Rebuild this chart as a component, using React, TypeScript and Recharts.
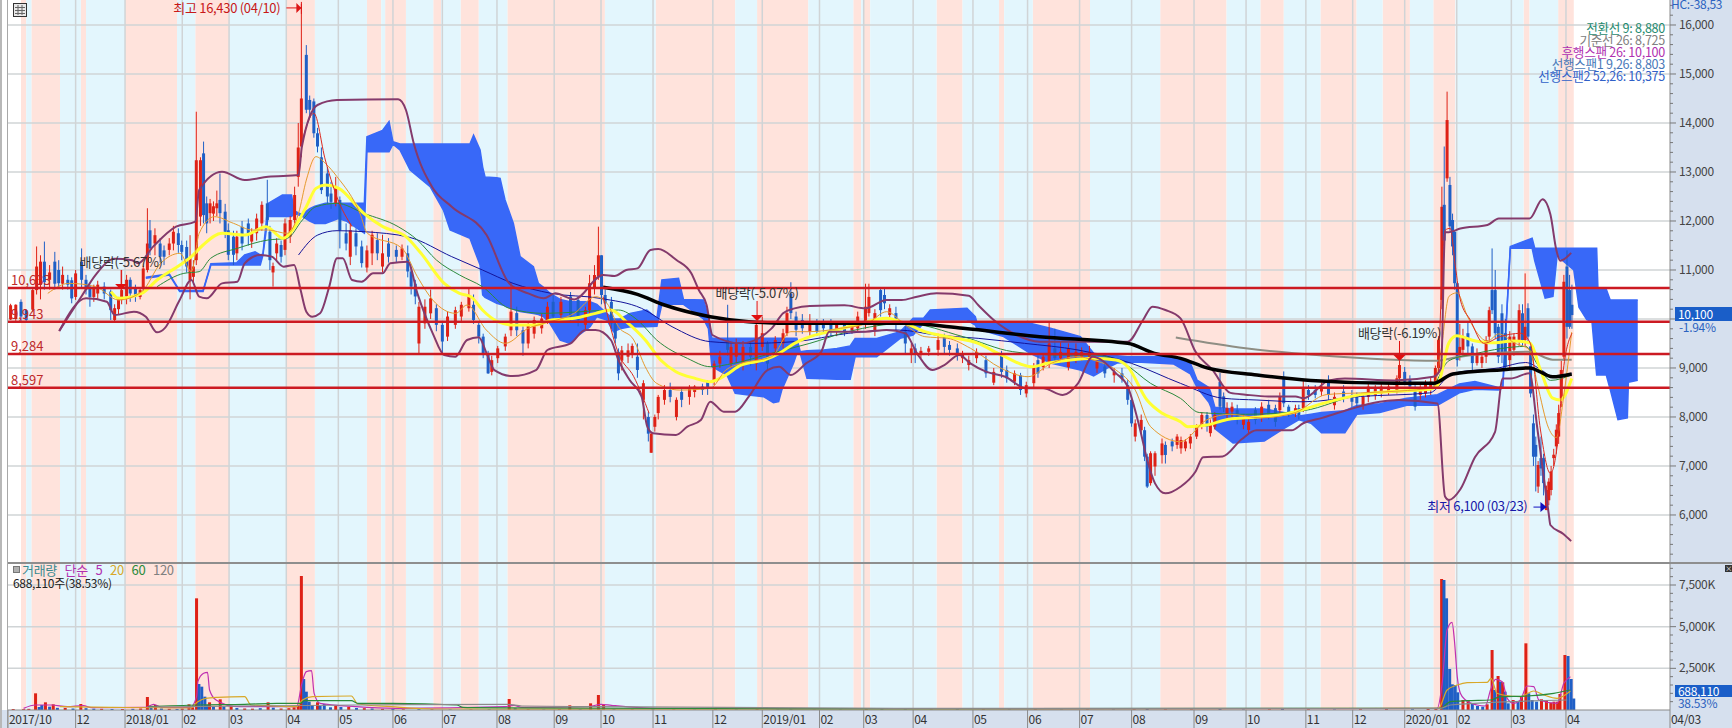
import React from "react";
import {
  Area,
  Bar,
  ComposedChart,
  Line,
  ReferenceArea,
  ReferenceDot,
  ReferenceLine,
  XAxis,
  YAxis,
} from "recharts";

const FONT = '"Noto Sans CJK KR", "Liberation Sans", sans-serif';
const UP = "#DE2116";
const DOWN = "#1F5FC6";
const CLOUD = "#3868F8";
const PINK = "#FFE3DC";
const SKY = "#E3F6FD";
const GRID = "#D0D4D6";
const PANEL = "#D6E0EE";

// x axis is trading days counted from the left edge of the chart
const LAST_DAY = 639;
const MONTH_DAYS = [0, 26, 45, 67, 85, 107, 127, 148, 167, 188, 210, 228, 248, 271, 290, 312, 329, 348, 371, 392, 412, 432, 456, 476, 499, 517, 537, 557, 578, 599, 639];
const MONTH_LABELS = ["2017/10", "12", "2018/01", "02", "03", "04", "05", "06", "07", "08", "09", "10", "11", "12", "2019/01", "02", "03", "04", "05", "06", "07", "08", "09", "10", "11", "12", "2020/01", "02", "03", "04", "04/03"];

const PRICE_LABELS = [6000, 7000, 8000, 9000, 10000, 11000, 12000, 13000, 14000, 15000, 16000];
const LEVELS = [10633, 9943, 9284, 8597];
const LEVEL_LABELS = ["10,633", "9,943", "9,284", "8,597"];

// background bands, start and end day
const PINK_BANDS = [[5, 7], [9, 20], [28, 30], [45, 65], [72, 85], [107, 118], [138, 143.5], [145, 153], [163.5, 166.5], [174, 181], [192, 229.5], [249, 279.6], [288, 307.7], [325, 328], [329, 331.5], [357, 367], [381, 383], [394, 416], [443, 468.5], [481.5, 490.5], [504.6, 518.5], [528.5, 539], [548, 556.5], [582.7, 585], [596, 602]];
const SKY_BANDS = [[7, 9], [20, 28], [30, 45], [65, 72], [85, 107], [118, 138], [143.5, 145], [153, 163.5], [166.5, 174], [181, 192], [229.5, 249], [279.6, 288], [307.7, 325], [328, 329], [331.5, 357], [367, 381], [383, 394], [416, 443], [468.5, 481.5], [490.5, 504.6], [518.5, 528.5], [539, 548], [556.5, 582.7], [585, 596]];

// candles: day, open, close, high, low
const CANDLES_2017 = [
  [1, 9990, 10280, 10310, 9980], [3, 10000, 10290, 10300, 9960], [5, 10350, 10050, 10400, 9950], [7, 10180, 9980, 10200, 9960],
  [9.5, 10190, 10590, 10650, 10150], [11, 10590, 11070, 11480, 10500], [12.5, 10700, 11170, 11300, 10400], [14, 11170, 10750, 11580, 10600],
  [16, 10800, 10950, 11100, 10600], [18, 11170, 10720, 11370, 10600], [19.5, 11000, 10730, 11200, 10650], [21, 10720, 10900, 11070, 10600],
  [23, 10800, 10700, 10900, 10600], [24.5, 10790, 10420, 10850, 10320], [26, 10450, 10930, 11000, 10390], [28.3, 11170, 10800, 11440, 10650],
  [30, 10800, 10600, 10900, 10500], [31.5, 10660, 10450, 10700, 10250], [33, 10450, 10620, 10700, 10350], [34.5, 10520, 10700, 10780, 10400],
  [37, 10660, 10520, 10750, 10400], [39.5, 10560, 10180, 10600, 9980], [41, 9980, 10220, 10300, 9950], [42.5, 10200, 10400, 10450, 10100],
  [43.7, 10390, 10590, 11000, 10300],
];
const CANDLES_2018_Q1 = [
  [45.6, 10460, 10800, 10900, 10300], [47, 10800, 10520, 10850, 10350], [49, 10620, 10450, 10700, 10350], [50.8, 10450, 10590, 10650, 10400],
  [52, 10620, 11030, 11080, 10550], [53.6, 11000, 11540, 12260, 10950], [54.6, 11810, 11440, 12020, 11300], [56.5, 11540, 11710, 11850, 11300],
  [58.5, 11540, 11270, 11650, 11150], [60, 11400, 11270, 11500, 11100], [62, 11410, 11540, 11650, 11300], [63.6, 11540, 11780, 11900, 11400],
  [65.5, 11750, 11510, 11850, 11350], [66.8, 11510, 11370, 11600, 11200], [68.7, 11470, 11070, 11600, 10950], [70, 10790, 11240, 11710, 10400],
  [71.3, 10860, 11070, 11200, 10700], [72.4, 11200, 13240, 14230, 11100], [74, 12090, 13240, 13300, 11900], [75.2, 13380, 12120, 13620, 11950],
  [76.4, 12360, 11950, 12500, 11750], [77.7, 12160, 12360, 12450, 11950], [79, 12150, 12300, 12400, 12000], [80.3, 12260, 12360, 12620, 12100],
  [81.5, 12430, 12160, 12970, 11950], [83.5, 12190, 11780, 12350, 11650], [84.7, 11810, 11310, 11950, 11200], [86.7, 11680, 11310, 11800, 11100],
  [88, 11340, 11680, 11800, 11200], [90, 11880, 11540, 12000, 11400], [92.4, 11950, 11710, 12050, 11500], [93.7, 11580, 11750, 11850, 11450],
  [95.6, 11750, 12050, 12150, 11600], [97.6, 11950, 12330, 12400, 11800], [99.7, 12360, 12020, 12840, 11900], [100.7, 11780, 11200, 11900, 11000],
  [101.9, 10950, 11080, 11150, 10660], [103.3, 11340, 11540, 11650, 11200], [105, 11510, 11270, 11600, 11150],
];
const CANDLES_2018_Q2 = [
  [106.5, 11410, 11950, 12050, 11300], [108.5, 11680, 12020, 12100, 11550], [110.2, 12020, 12530, 12700, 11950], [111.6, 12900, 13500, 14000, 12700],
  [112.8, 13520, 14500, 16430, 13300], [114.7, 15390, 14270, 15590, 14200], [116, 14470, 14270, 14560, 14100], [117.6, 14440, 13790, 14500, 13700],
  [119, 13790, 13520, 13900, 13400], [120.5, 13300, 12630, 13500, 12550], [122.8, 12970, 12500, 13100, 12350], [124.2, 12560, 12390, 12800, 12250],
  [126, 12360, 12700, 12900, 12300], [127.6, 12430, 11810, 12500, 11440], [130, 11750, 11540, 11950, 11400], [131.6, 11270, 11810, 11950, 11100],
  [133.8, 11750, 11480, 11850, 11300], [136, 11480, 11140, 11600, 11050], [138, 11050, 11400, 11500, 10950], [140, 11340, 11720, 11800, 11100],
  [142, 11610, 11340, 11750, 11200], [144, 11070, 11340, 11720, 10950], [146.3, 11540, 11270, 11650, 11150], [149.3, 11410, 11270, 11500, 11150],
  [151.5, 11270, 11440, 11520, 11200], [153.7, 11340, 10970, 11500, 10850], [155, 10970, 10660, 11050, 10500], [156.6, 10720, 10460, 10800, 10300],
  [158, 9500, 10250, 10350, 9270], [160.3, 9910, 10250, 10400, 9800], [162.5, 10115, 10420, 10600, 10000], [164.7, 10220, 9880, 10300, 9750],
];
const CANDLES_2018_Q3 = [
  [167, 9880, 9540, 9950, 9300], [169, 9640, 10050, 10150, 9550], [172, 9880, 10180, 10250, 9800], [174.3, 10050, 10290, 10350, 9950],
  [177.2, 10220, 10490, 10650, 10150], [179, 10290, 9980, 10500, 9900], [181, 9880, 9640, 9950, 9500], [182.7, 9640, 9300, 9700, 9200],
  [184.6, 9300, 8890, 9350, 8880], [186, 8920, 9160, 9250, 8850], [188.3, 9200, 9400, 9450, 9100], [191.2, 9440, 9640, 9700, 9350],
  [193.4, 9770, 10150, 10730, 9650], [195.6, 10120, 9770, 10250, 9650], [198, 9770, 9500, 9850, 9250], [200, 9500, 9880, 9950, 9400],
  [202.3, 9700, 9980, 10050, 9600], [205.2, 9810, 10010, 10100, 9700], [207.4, 9980, 10250, 10350, 9900], [209.6, 10350, 10050, 10500, 9950],
  [212.6, 10080, 10350, 10450, 10000], [216.3, 10460, 10050, 10550, 9950], [219.2, 10390, 9980, 10450, 9850], [222, 9880, 10180, 10250, 9750],
  [223.6, 10180, 10730, 10900, 10100], [225.5, 10625, 10897, 11100, 10500], [227, 10865, 11300, 11884, 10800],
];
const CANDLES_2018_Q4 = [
  [228.2, 11300, 10490, 11300, 10300], [229.6, 10490, 10320, 10600, 10200], [232, 10350, 9910, 10450, 9800], [233.5, 9910, 9600, 10000, 9500],
  [234.7, 9330, 8890, 9400, 8750], [236, 9150, 9360, 9450, 8950], [238.4, 9230, 9360, 9500, 9100], [240, 9300, 9450, 9500, 9200],
  [242, 9230, 8960, 9500, 8800], [244.3, 8350, 8690, 8750, 7950], [246.2, 8000, 7660, 8100, 7500], [247.3, 7270, 7660, 7700, 7270],
  [248.7, 7800, 8000, 8050, 7700], [250, 8080, 8410, 8450, 7950], [252.4, 8350, 8550, 8650, 8250], [254.6, 8550, 8410, 8700, 8300],
  [257, 8000, 8350, 8400, 7930], [259, 8510, 8350, 8600, 8200], [262, 8410, 8580, 8650, 8250], [264, 8510, 8620, 8650, 8400],
  [267, 8620, 8550, 8680, 8450], [269, 8720, 8580, 8750, 8450], [271.5, 8720, 9090, 9150, 8650], [273.7, 9090, 9230, 9350, 9000],
  [276.7, 9570, 9370, 10290, 9250], [278, 9090, 9430, 9500, 9000], [280, 9230, 9500, 9600, 9100], [282.6, 9090, 9430, 9550, 8950],
  [285.5, 9430, 9230, 9550, 9050], [287.7, 9090, 9880, 9950, 8950],
];
const CANDLES_2019_H1 = [
  [290, 9430, 9710, 10050, 9350], [292, 9500, 9090, 9550, 8950], [295, 9400, 9570, 9650, 9300], [298, 9500, 9710, 9800, 9400],
  [299.5, 9710, 10120, 10250, 9650], [301, 10520, 10120, 10750, 10000], [303, 10050, 9780, 10150, 9650], [305.4, 9980, 9810, 10100, 9700],
  [308.3, 9740, 9910, 10100, 9650], [311, 9910, 9740, 10000, 9650], [313.5, 9910, 9810, 10000, 9700], [316.4, 9910, 9740, 10000, 9650],
  [318.6, 9740, 9880, 9950, 9650], [321.6, 9880, 9740, 9950, 9650], [324.5, 9770, 9880, 9950, 9700], [326.7, 9810, 10050, 10150, 9750],
  [329.7, 9910, 10250, 10720, 9800], [331, 10120, 10450, 10720, 10050], [333.3, 9770, 10120, 10200, 9650], [335.5, 10590, 10180, 10650, 10050],
  [337, 10490, 10320, 10650, 10200], [339, 10080, 10220, 10300, 10000], [341.4, 10120, 9880, 10250, 9750], [345, 9740, 9500, 9850, 9300],
  [347.3, 9270, 9400, 9500, 9100], [348.8, 9400, 9300, 9500, 9100], [351, 9300, 9350, 9430, 9200], [354, 9330, 9400, 9450, 9250],
  [357.6, 9370, 9570, 9700, 9250], [360, 9640, 9430, 9700, 9300], [362, 9470, 9370, 9550, 9250], [365, 9400, 9270, 9500, 9150],
  [367, 9200, 9300, 9350, 9100], [369.4, 9060, 9160, 9250, 8950], [372.4, 9200, 9330, 9400, 9100], [376, 9160, 8890, 9250, 8800],
  [379, 8700, 8920, 9000, 8650], [382, 9260, 8920, 9350, 8800], [384, 8960, 8790, 9050, 8700], [387, 8720, 8890, 8950, 8650],
  [389.3, 8850, 8550, 8900, 8450], [391.5, 8480, 8650, 8720, 8400], [394.4, 8690, 9020, 9100, 8600], [396, 9160, 8890, 9250, 8800],
];
const CANDLES_2019_Q3 = [
  [398, 9020, 9230, 9300, 8950], [400.3, 9090, 9500, 9950, 9000], [402.5, 9400, 9200, 9800, 9100], [404.7, 9200, 9330, 9550, 9100],
  [407.7, 9020, 9400, 9500, 8950], [410.6, 9230, 9330, 9500, 9100], [412.8, 9230, 9330, 9420, 9150], [415.8, 9230, 9330, 9450, 9150],
  [418.7, 8990, 9130, 9200, 8900], [421.7, 9030, 8890, 9100, 8800], [425.3, 8850, 8920, 9000, 8700], [428.3, 8890, 8790, 9000, 8700],
  [430.5, 8650, 8350, 8750, 8250], [432, 8350, 7870, 8400, 7800], [433.4, 7600, 7870, 7950, 7500], [435.7, 7730, 7940, 8050, 7650],
  [437, 7730, 7190, 7800, 7100], [438, 7190, 6580, 7250, 6550], [439.3, 6650, 7260, 7300, 6600], [441, 6990, 7260, 7300, 6800],
  [443.7, 7220, 7460, 7560, 7050], [445, 7430, 7225, 7500, 7050], [447.6, 7500, 7400, 7560, 7300], [449.5, 7430, 7600, 7650, 7350],
  [451, 7360, 7530, 7600, 7250], [452.7, 7360, 7500, 7550, 7300], [454.6, 7460, 7600, 7650, 7350], [457, 7600, 7800, 7850, 7550],
  [459, 7800, 8040, 8100, 7750], [461, 8040, 7800, 8100, 7700], [462.3, 7670, 7870, 7950, 7600], [464, 7800, 8040, 8100, 7750],
];
const CANDLES_2019_Q4 = [
  [466, 8720, 8210, 8900, 8150], [467.4, 8420, 8180, 8500, 8100], [468.7, 8040, 8180, 8300, 7950], [470.6, 8110, 8210, 8300, 8000],
  [472.6, 8140, 7940, 8250, 7850], [475, 7840, 7970, 8050, 7750], [477, 7735, 7900, 8000, 7650], [479.6, 8140, 7940, 8200, 7850],
  [482, 8010, 8210, 8300, 7900], [484.7, 8250, 8040, 8350, 7950], [487.3, 8180, 7900, 8250, 7800], [489, 8140, 8420, 8500, 8050],
  [490.5, 8820, 8280, 8930, 8200], [492.4, 8210, 8070, 8250, 8000], [495, 8070, 8180, 8250, 8000], [496.3, 8180, 8040, 8250, 7950],
  [498, 8180, 8580, 8750, 8100], [500, 8550, 8450, 8650, 8350], [502.6, 8550, 8450, 8650, 8380], [505, 8520, 8620, 8700, 8430],
  [507.7, 8720, 8450, 8850, 8350], [510, 8240, 8410, 8500, 8150], [513.5, 8520, 8410, 8650, 8300], [516.7, 8450, 8310, 8550, 8200],
  [518.6, 8410, 8280, 8500, 8200], [521, 8240, 8410, 8480, 8150], [523, 8410, 8620, 8700, 8300], [525.7, 8450, 8580, 8650, 8350],
  [528, 8480, 8620, 8700, 8400], [530.8, 8520, 8620, 8680, 8450], [534, 8550, 8790, 8850, 8480], [535, 8790, 9060, 9490, 8700],
  [537, 8920, 8720, 9020, 8650], [539, 8760, 8620, 8850, 8550], [541, 8550, 8210, 8650, 8130], [543, 8450, 8580, 8650, 8350],
  [545, 8480, 8690, 8750, 8400], [547, 8550, 8720, 8800, 8450],
];
const CANDLES_2020 = [
  [548.8, 8720, 9000, 9050, 8650], [550, 9000, 9570, 9650, 8900], [551.3, 10390, 12290, 12700, 10200], [552.2, 12330, 11600, 13520, 11500],
  [553.3, 12870, 14060, 14640, 12800], [554.4, 12735, 11890, 12900, 11800], [555.4, 12020, 11480, 12150, 11300], [556.2, 11780, 10730, 11800, 10600],
  [557.2, 10730, 9160, 10750, 9030], [558.2, 9300, 9430, 9900, 9150], [559.4, 9370, 9640, 9800, 9250], [561.3, 9710, 9440, 9950, 9300],
  [563, 9440, 9100, 9500, 8950], [564.8, 9100, 9300, 9400, 9050], [566.7, 9100, 9230, 9300, 9000], [568.3, 9230, 9570, 9650, 9100],
  [569.5, 9640, 10180, 10250, 9550], [570.6, 10590, 10180, 11440, 10100], [571.8, 10590, 9710, 11000, 9600], [573, 9840, 9230, 9900, 9100],
  [574.4, 10116, 9300, 10300, 9100], [575.7, 9710, 9030, 10000, 8950], [577.4, 9160, 9640, 9750, 9000], [579, 9370, 9640, 9700, 9250],
  [581, 9570, 10180, 10300, 9450], [582.3, 10116, 9570, 10300, 9450], [583.3, 9570, 9840, 10930, 9450], [584.4, 10220, 9640, 10320, 9550],
  [585.4, 9440, 8480, 9500, 8400], [586.5, 7870, 7190, 8050, 7000], [587.4, 7430, 7190, 7600, 6480], [588.3, 6580, 7020, 7100, 6450],
  [589.4, 7160, 6950, 7600, 6800], [590.4, 7160, 6650, 7250, 6400], [591.5, 6100, 6510, 6600, 6100], [592.4, 6300, 6680, 6750, 6200],
  [593.3, 6510, 6890, 7000, 6400], [594.3, 7160, 7230, 7350, 7000], [595.3, 7400, 7740, 7850, 7250], [596.2, 7600, 8080, 8250, 7450],
  [597.2, 8350, 8960, 9150, 8200], [598.2, 9230, 10760, 10900, 9150], [599.4, 11070, 9840, 11400, 9600], [600.4, 10590, 9840, 10900, 9800],
  [601.3, 10290, 10080, 10700, 9800],
];

// ichimoku cloud: day, lower edge, upper edge
const CLOUD_2018_H1 = [
  [53, 10830, 10850], [62, 10900, 10920], [66, 10560, 10580], [75, 10560, 10580], [78, 11100, 11130], [88, 11100, 11150], [91, 11100, 11310],
  [95, 11100, 11370], [97, 11100, 11310], [98, 11300, 11320], [100, 12090, 12360], [105.5, 12090, 12530], [109, 12090, 12530], [110, 12150, 12210],
  [113, 12100, 12130], [116, 12000, 12250], [118, 11950, 12300], [122, 11950, 12360], [127, 12050, 12360], [130, 12000, 12360], [137, 11750, 12360],
  [138, 13415, 13720], [144, 13415, 13850], [146.5, 13415, 14030], [148, 13570, 13620], [150.7, 13449, 13570], [154.6, 13041, 13570], [162.3, 12700, 13570],
  [167.4, 12224, 13570], [170, 11816, 13570], [177.6, 11646, 13570], [179, 11450, 13750],
];
const CLOUD_2018_H2 = [
  [181.5, 11100, 13449], [182.5, 10490, 13100], [183.4, 10440, 12900], [187.9, 10320, 12880], [189.2, 10300, 12870], [191.1, 10270, 12428], [194.3, 10200, 11952],
  [196.9, 10150, 11272], [202, 10110, 11068], [203.9, 10090, 10728], [205.8, 10050, 10650], [208.4, 9906, 10524], [212.3, 9571, 10400], [216.1, 9503, 10350],
  [218.7, 9640, 10350], [223.8, 9843, 10350], [226.4, 10047, 10300], [230.2, 9980, 10115], [232.8, 9740, 10000], [235.3, 9800, 10000], [239.2, 9840, 10115],
  [245.6, 9840, 10184], [249.5, 9850, 10013], [251.4, 10300, 10796], [257.8, 10300, 10830], [259.7, 10300, 10400], [267.4, 10000, 10388], [269.3, 9800, 10047],
  [270.6, 9027, 9605], [276.4, 8857, 9605], [279.6, 8483, 9605], [284.7, 8450, 9605],
];
const CLOUD_2019 = [
  [290.5, 8415, 9605], [294.3, 8292, 9605], [296.3, 8312, 9605], [297.5, 8550, 9605], [302, 9095, 9605], [303.3, 9300, 9605], [304.6, 9300, 9333], [307.2, 8789, 9350],
  [313.6, 8780, 9367], [318.7, 8770, 9400], [323.8, 8768, 9450], [325.7, 9231, 9600], [334, 9231, 9600], [343, 9605, 9741], [348, 9673, 10013], [352, 9911, 10013],
  [354.6, 9979, 10183], [368.7, 9979, 10217], [371.9, 9877, 10047], [372.6, 9800, 9912], [382.8, 9640, 9912], [393, 9300, 9912], [400.8, 9100, 9810], [412.3, 8960, 9640],
  [417.4, 8840, 9300], [422.6, 9000, 9260], [426.4, 9100, 9250], [430.3, 9110, 9230], [434, 9120, 9230], [448.2, 9080, 9230], [454.6, 8880, 9100], [457.2, 8600, 8750],
  [461.7, 8300, 8600], [462.5, 8200, 8490], [464, 7763, 8200], [471, 7471, 8164], [483, 7508, 8164], [490.5, 7763, 8091], [496.4, 7945, 8018], [501, 7872, 8055],
  [505, 7676, 8091], [514, 7676, 8128], [518.6, 8055, 8237], [527.4, 8091, 8270], [537.8, 8237, 8383],
];
const CLOUD_2020 = [
  [549.6, 8237, 8456], [558, 8492, 8674], [564, 8565, 8725], [573, 8550, 8601], [574.7, 8590, 8620], [577.6, 11444, 11481], [586, 11444, 11648], [587, 11189, 11444],
  [591, 10424, 11444], [594, 10460, 11444], [595.6, 11300, 11444], [597, 11225, 11444], [602, 11000, 11444], [604, 10241, 11444], [607, 9986, 11444], [609, 9950, 11444],
  [610.8, 8857, 11444], [611.3, 8857, 10606], [614.5, 8857, 10606], [616, 8565, 10387], [619, 7945, 10387], [622.6, 7982, 10387], [623, 8711, 10387], [626.6, 8747, 10387],
];

// bollinger bands: day, price
const BAND_UPPER = [
  [19.7, 9755], [28.6, 10490], [33.7, 10900], [41, 11230], [47.7, 11200], [50, 11135], [55.8, 11476], [64.6, 11884], [72, 11986], [73.5, 12632], [82.3, 13006], [91, 12836],
  [100, 12904], [111.7, 12938], [113, 13517], [119, 14367], [126.5, 14469], [150, 14483], [153, 14265], [156, 13585], [163, 12700], [170.6, 12292], [184, 11714],
  [192.7, 10727], [200, 10523], [206, 10421], [210.4, 10523], [217.7, 10400], [228.8, 10897], [233.2, 10877], [237.7, 10999], [242, 11033], [247, 11408], [250, 11428],
  [257, 11203], [262.7, 10931], [265.6, 10591], [268.6, 10285], [270.8, 9673], [281.8, 9503], [293.6, 9809], [298, 10115], [302.4, 10217], [308.3, 10265], [321.6, 10278],
  [329.7, 10217], [337.8, 10387], [343.6, 10387], [349.5, 10455], [357, 10523], [369.4, 10476], [373, 10285], [379, 9979], [387.8, 9673], [396.6, 9537], [411.4, 9537],
  [430.5, 9537], [436.4, 9979], [440, 10251], [445, 10183], [450.8, 10013], [456.6, 9330], [463, 8966], [470, 8492], [475.8, 8456], [484.6, 8419], [495, 8419], [498, 8383],
  [508, 8747], [514, 8784], [533, 8747], [548, 8820], [551, 9000], [552.5, 11772], [554, 11772], [558.4, 11845], [568.8, 11918], [573.2, 12049], [585, 12049], [590, 12443],
  [593, 12137], [595.3, 11408], [596.8, 11189], [601, 11349],
];
const BAND_LOWER = [
  [19.7, 9755], [30, 10421], [38, 10353], [41, 10081], [48.4, 10149], [53, 10047], [57.3, 9727], [60.2, 9809], [66, 10387], [70.5, 10795], [73.5, 10455], [76.4, 10421],
  [82.3, 10727], [88.2, 10761], [91, 11136], [97, 11306], [101.4, 11272], [106, 11068], [110, 11102], [112.5, 10591], [114.7, 10149], [117, 10047], [120, 10115], [123.5, 10659],
  [126.5, 11238], [128.7, 11238], [132.3, 10795], [136, 10761], [140.4, 10931], [144, 10931], [147, 11136], [153.7, 11170], [157.4, 10523], [163.3, 9707], [167.7, 9265],
  [172, 9231], [176.5, 9571], [181, 9625], [184, 9299], [187, 8958], [194, 8836], [203, 8958], [207.4, 9367], [216.3, 9503], [222, 9775], [225.9, 9775], [231.8, 9571],
  [234.7, 9163], [239, 8754], [243.6, 8414], [245.8, 7802], [248, 7666], [256.8, 7632], [261.2, 7802], [266.4, 7938], [270, 8312], [275.2, 8108], [279.6, 8108], [284.8, 8414],
  [292, 8958], [296.5, 9026], [301, 8856], [306.8, 9094], [312.7, 9333], [315.7, 9741], [329.7, 9741], [337.8, 9775], [345, 9707], [349.5, 9299], [355.4, 8958], [360, 9060],
  [365.7, 9265], [370, 9094], [376, 8925], [383.4, 8822], [391.5, 8584], [398, 8584], [405.5, 8448], [411.4, 8686], [417, 9231], [426, 8890], [430.5, 8618], [435, 7802],
  [438, 7122], [441, 6645], [445, 6441], [450.8, 6577], [456.6, 6888], [459.5, 7180], [467, 7195], [474.3, 7545], [480, 7727], [493.5, 7727], [498, 7872], [505.3, 7982],
  [514, 8128], [527.4, 8310], [534.8, 8347], [549.6, 8273], [552.5, 6378], [554, 6305], [558.4, 6524], [564, 7180], [571.7, 7690], [574.7, 8784], [577.6, 8784], [585, 8893],
  [588, 7763], [592.4, 6014], [593, 5795], [598, 5613], [601, 5467],
];

// moving averages: day, price
const MA_ORANGE = [
  [15.3, 10523], [23.4, 10727], [33.7, 10659], [42.5, 10387], [51.4, 10557], [58.7, 11136], [66.1, 11340], [70.5, 10966], [73.5, 11748], [79.4, 12088], [86.7, 11952], [94, 11816],
  [100, 11816], [107.3, 11748], [111.7, 12156], [114.7, 12836], [118.4, 13313], [122, 13177], [126.5, 12904], [135.3, 12156], [138.2, 11748], [151.5, 11442], [157.4, 10863],
  [163.3, 10387], [172.1, 10115], [176.5, 10285], [183.9, 9775], [191.2, 9503], [200, 9809], [206, 9911], [217.7, 10115], [225.9, 10455], [230.3, 10319], [234.7, 9843],
  [240.6, 9571], [245, 9026], [249.4, 8686], [258.3, 8550], [270, 8584], [276, 8958], [281.8, 9094], [293.6, 9231], [301, 9741], [308.3, 9741], [320, 9809], [330.4, 9911],
  [337.8, 10149], [345, 9877], [352.5, 9639], [361.3, 9605], [370.1, 9401], [381.9, 8992], [392.2, 8822], [401.1, 9094], [411.4, 9231], [417.2, 9163], [426, 8958], [433.4, 8550],
  [439.3, 7802], [450.8, 7496], [461, 7945], [469.9, 8055], [481.7, 7982], [495, 8091], [506.8, 8456], [520, 8492], [534.8, 8529], [548.1, 8601], [551, 9367], [554, 10460],
  [557, 10533], [561.4, 10023], [568.8, 9549], [573.2, 9695], [579.1, 9513], [585, 9367], [588, 8674], [592.4, 7763], [595.3, 7581], [598.3, 8492], [601.2, 9731],
];
const MA_YELLOW = [
  [39.6, 10557], [42.5, 10421], [51.4, 10523], [57.3, 10795], [66.1, 11102], [70.5, 11272], [75, 11510], [82.3, 11748], [91.1, 11714], [99.2, 11884], [105.8, 11646], [110.3, 11884],
  [114.7, 12292], [118.4, 12666], [122, 12734], [127.2, 12666], [136.8, 12156], [144.1, 11884], [153, 11680], [158.8, 11340], [167.7, 10727], [173.6, 10523], [178, 10455],
  [182.4, 10183], [188.3, 9945], [194.2, 9877], [203, 9877], [209, 9979], [217.7, 10013], [225.9, 10115], [231.8, 10183], [237.7, 9945], [245, 9571], [250.9, 9163], [256.8, 8924],
  [264.2, 8788], [270, 8720], [276, 8856], [281.8, 9060], [290.7, 9163], [296.5, 9299], [302.4, 9503], [308.3, 9639], [315.7, 9741], [326, 9877], [337.8, 10013], [345, 9911],
  [352.5, 9741], [361.3, 9639], [373, 9503], [381.9, 9265], [393.7, 9026], [399.6, 9095], [408.4, 9163], [417.2, 9197], [426, 9163], [430.5, 9026], [437.9, 8346], [443.8, 8074],
  [450.8, 7904], [453.6, 7800], [461, 7836], [468.4, 7945], [475.8, 7982], [490.5, 8055], [496.4, 8128], [505.3, 8273], [520, 8456], [534.8, 8529], [546.6, 8565], [549.6, 8638],
  [554, 9513], [557, 9658], [564.3, 9549], [570.2, 9513], [579, 9549], [585, 9513], [589.4, 8930], [593.9, 8383], [596.8, 8347], [601.2, 8784],
];
const MA_GREEN = [
  [57.3, 10659], [67.6, 10931], [73.5, 10966], [77.9, 11238], [88.2, 11442], [100, 11612], [107.3, 11646], [113.2, 12020], [118.4, 12292], [126.5, 12360], [136.8, 12156], [150, 11884],
  [157.4, 11612], [164.7, 11204], [173.6, 10898], [182.4, 10659], [192.7, 10217], [206, 10115], [234.7, 10183], [242, 9979], [249.4, 9571], [261.2, 9197], [270, 9026], [278.9, 9094],
  [293.6, 9299], [308.3, 9503], [323, 9741], [345, 9911], [367.2, 9639], [386.3, 9333], [404, 9265], [417.2, 9265], [429, 9094], [439.3, 8686], [450.8, 8380], [458, 8091],
  [475.8, 8055], [498, 8128], [520, 8456], [546.6, 8565], [554, 9148], [564.3, 9294], [583.5, 9440], [588, 9075], [593.1, 8747], [601.2, 8857],
];
const MA_NAVY = [
  [111.7, 11306], [119.1, 11714], [126.5, 11802], [136.8, 11782], [154.4, 11666], [170.6, 11272], [182.4, 11000], [194.2, 10727], [208.9, 10523], [227.7, 10421], [243.6, 10217],
  [255.3, 9843], [270, 9537], [284.8, 9503], [302.4, 9537], [323, 9707], [342.2, 9775], [356.9, 9673], [373, 9605], [390.8, 9503], [411.4, 9367], [432, 9094], [450.8, 8686],
  [467, 8383], [480.2, 8346], [497.9, 8310], [520, 8419], [546.6, 8492], [555.5, 8893], [573.2, 9002], [583.5, 9112], [589.4, 8966], [593.9, 8820], [601.2, 8893],
];
const MA_BLACK = [
  [228.8, 10646], [242, 10503], [252.4, 10285], [270, 10047], [284.8, 9945], [302.4, 9911], [345, 9911], [367.2, 9809], [396.6, 9639], [430.5, 9503], [440.8, 9299], [450.8, 9197],
  [461, 9002], [480.2, 8857], [500.9, 8747], [533.3, 8689], [548.1, 8689], [555.5, 8879], [574.7, 8966], [585, 9002], [593.9, 8820], [601.2, 8878],
];
const MA_GRAY = [
  [449, 9622], [475.8, 9403], [505.3, 9257], [549.6, 9148], [557, 9221], [585, 9330], [593.9, 9170], [601.2, 9170],
];
const MA_RED_2018 = [
  [113.2, 13653], [117.6, 14197], [122, 13245], [126.4, 12496], [132.3, 11884],
];
const MA_RED_2018_DEC = [
  [228.8, 10455], [234.7, 9298], [240.6, 8822], [246.5, 8074],
];
const MA_RED_2020 = [
  [550, 8892], [552.6, 11816], [554.5, 11850], [556.5, 11068], [558.4, 10388], [562.2, 9980], [567.4, 9504], [573.8, 9640], [581.5, 9708], [585.3, 9504], [589.2, 7735], [593, 6850],
  [595.6, 7395], [598, 8960], [601.3, 9708],
];

// ex-dividend marks: day, price, text
const DIVIDEND_DAYS = [43.5, 288, 535];
const DIVIDEND_PRICES = [10590, 9959, 9143];
const DIVIDEND_LABELS = ["배당락(-5.67%)", "배당락(-5.07%)", "배당락(-6.19%)"];

// ichimoku legend, top right
const ICHIMOKU_TEXTS = ["전환선 9: 8,880", "기준선 26: 8,725", "후행스팬 26: 10,100", "선행스팬1 9,26: 8,803", "선행스팬2 52,26: 10,375"];
const ICHIMOKU_COLORS = ["#1E8A6E", "#808080", "#B030B0", "#4878B8", "#3060C8"];

// volume bars in thousand shares: day, volume, 1 = up day
const VOLUME_2017 = [
  [2, 60, 1], [6, 50, 1], [8, 70, 1], [10.6, 1000, 1], [12, 180, 0], [13, 300, 0], [14.4, 460, 1], [16, 200, 0], [17.4, 340, 1], [19, 130, 0], [22, 120, 1], [25, 90, 0], [28, 360, 1], [30, 110, 0],
  [33, 80, 0], [36, 70, 1], [40, 60, 0], [44, 60, 1], [48, 70, 0],
];
const VOLUME_2018_Q1 = [
  [51, 90, 1], [53.6, 780, 1], [55, 130, 0], [56.7, 300, 1], [59, 90, 0], [62, 70, 1], [65, 60, 0], [67, 80, 1], [69.6, 340, 1], [71, 160, 1], [72.5, 6700, 1], [73.4, 1560, 0], [74.5, 1400, 0],
  [75.7, 800, 0], [76.6, 300, 0], [77.5, 460, 1], [79, 200, 0], [81.6, 640, 1], [83, 220, 0], [85.8, 260, 1], [88, 120, 0], [91, 90, 1], [94, 80, 1], [97, 110, 0], [100, 460, 1], [102, 140, 0],
  [105, 90, 1],
];
const VOLUME_2018_Q2 = [
  [108, 110, 1], [110, 160, 1], [111.6, 260, 1], [112.8, 8040, 1], [113.7, 1860, 0], [114.7, 1100, 0], [115.8, 500, 0], [117, 300, 0], [119, 460, 1], [120, 240, 0], [121.6, 360, 0], [124, 160, 0],
  [126, 260, 1], [128, 180, 0], [131, 190, 1], [134, 120, 0], [137, 110, 1], [140, 90, 0], [144, 70, 1], [148, 60, 0], [152, 40, 1], [158, 50, 0], [163, 40, 1], [170, 30, 0], [178, 30, 1], [185, 40, 0],
];
const VOLUME_2018_H2 = [
  [192.7, 660, 1], [195, 110, 0], [200, 50, 1], [206, 40, 0], [212, 60, 1], [216, 280, 1], [220, 60, 0], [224, 400, 1], [227, 900, 1], [229, 300, 1], [233, 60, 0], [240, 40, 1], [248, 60, 0],
  [256, 40, 1], [264, 30, 0], [272, 50, 1], [280, 40, 0], [288, 60, 1], [296, 30, 0], [301, 90, 0], [310, 30, 1], [320, 30, 0], [330, 100, 1], [336, 70, 0], [345, 40, 0], [355, 30, 1],
];
const VOLUME_2019 = [
  [365, 50, 0], [375, 40, 1], [385, 30, 0], [395, 40, 1], [405, 30, 0], [415, 30, 1], [425, 30, 0], [433, 40, 1], [438, 70, 0], [445, 40, 1], [455, 30, 1], [466, 60, 0], [475, 30, 0], [485, 40, 1],
  [490, 90, 0], [500, 40, 1], [510, 30, 0], [520, 40, 1], [530, 50, 1], [540, 40, 0], [546, 60, 1], [549, 100, 1],
];
const VOLUME_2020 = [
  [551.2, 7860, 1], [552.1, 7800, 0], [553.1, 6700, 0], [554.3, 2460, 0], [555.3, 1540, 0], [556.4, 1500, 0], [557.4, 1060, 0], [559.4, 600, 1], [561.4, 600, 1], [563, 400, 0], [565, 240, 0], [567, 200, 0],
  [568.7, 340, 1], [570.6, 3600, 1], [571.6, 1200, 0], [572.9, 2040, 1], [573.8, 1700, 0], [574.7, 1660, 1], [575.6, 1100, 0], [576.8, 400, 0], [578.7, 600, 1], [580.6, 500, 0], [581.9, 800, 1], [583.6, 4000, 1],
  [584.7, 1000, 0], [586, 600, 0], [587.7, 500, 0], [589.6, 640, 1], [591.5, 600, 1], [593.2, 440, 1], [594.4, 500, 1], [595.8, 500, 1], [596.7, 960, 1], [598.6, 3300, 1], [599.8, 3240, 0], [601, 1860, 0], [602, 688, 0],
];

// volume averages: day, thousand shares
const VOL_MA5 = [
  [6, 100], [10.6, 300], [16.7, 300], [22.8, 200], [29, 260], [32, 140], [53, 160], [56, 340], [59, 160], [70, 140], [72.5, 800], [73, 1700], [75.2, 2200], [76.7, 2260], [77.5, 1200], [80, 600], [88, 200],
  [111, 200], [113, 1600], [114.7, 2300], [116.7, 2360], [117.7, 1000], [120, 400], [133.7, 200], [149, 100], [191, 200], [194.5, 280], [197.6, 160], [223, 200], [228, 340], [232, 280], [250, 100], [400, 60],
  [549.5, 100], [551.4, 1600], [553.3, 4800], [555.2, 5260], [556.1, 4200], [557.2, 2000], [558.4, 1000], [560.4, 600], [564.8, 300], [568, 240], [570, 1200], [571.9, 1840], [574.5, 1700], [576.4, 700], [579, 400],
  [581.5, 600], [584, 1440], [586.6, 1400], [588.6, 600], [595.6, 400], [598.2, 1600], [600.7, 2000],
];
const VOL_MA20 = [
  [20, 200], [39.5, 160], [70, 120], [73, 500], [76, 700], [80.5, 760], [91, 800], [93.4, 300], [100, 260], [111, 200], [113.2, 600], [117, 800], [132, 840], [134.5, 360], [147.4, 200], [164, 60], [300, 50],
  [550, 100], [553.3, 1200], [557.2, 1500], [561, 1640], [568.7, 1660], [570.2, 1900], [572.5, 1000], [575, 900], [581.5, 800], [586.6, 1140], [590.5, 900], [595.6, 700], [600.7, 1140],
];
const VOL_MA60 = [
  [54, 200], [73, 300], [91, 340], [103.3, 400], [112.4, 400], [114, 560], [132, 560], [134.5, 400], [148, 400], [172.5, 300], [175, 160], [178.5, 140], [300, 70], [550.7, 100], [554.6, 500], [561, 560], [570, 600],
  [573.8, 800], [584, 840], [594.3, 1000], [600.7, 1200],
];
const VOL_MA120 = [
  [54, 180], [133.7, 300], [192, 340], [197.6, 240], [225, 200], [350, 100], [545, 90], [550.7, 100], [554.6, 300], [599.5, 600],
];

const VOLUME_LABELS = [2500, 5000, 7500];

const candleRows = [
  ...CANDLES_2017, ...CANDLES_2018_Q1, ...CANDLES_2018_Q2, ...CANDLES_2018_Q3, ...CANDLES_2018_Q4,
  ...CANDLES_2019_H1, ...CANDLES_2019_Q3, ...CANDLES_2019_Q4, ...CANDLES_2020,
].map(([day, open, close, high, low]) => ({ day, open, close, high, low, range: [low, high] }));

const cloudRows = [...CLOUD_2018_H1, ...CLOUD_2018_H2, ...CLOUD_2019, ...CLOUD_2020].map(([day, lo, hi]) => ({ day, range: [lo, hi] }));

const volumeRows = [...VOLUME_2017, ...VOLUME_2018_Q1, ...VOLUME_2018_Q2, ...VOLUME_2018_H2, ...VOLUME_2019, ...VOLUME_2020].map(([day, value, up]) => ({ day, value, up }));

const toRows = (list: number[][]) => list.map(([day, value]) => ({ day, value }));

// minor ticks every 200 won and 500K shares
const priceTicks: number[] = [];
for (let p = 5200; p <= 16400; p += 200) priceTicks.push(p);
const volumeTicks: number[] = [];
for (let v = 500; v <= 8500; v += 500) volumeTicks.push(v);

const tickText = { fontFamily: FONT, fontSize: 12, fill: "#444", letterSpacing: -0.3 };
const noteText = { fontFamily: FONT, fontSize: 13, letterSpacing: -0.3 };

// bar width from the scale is tiny on a number axis, so the candle keeps its own
const CANDLE_WIDTH = 3;

function Candle(props: any) {
  const { x, y, width, height, payload } = props;
  const { open, close, high, low } = payload;
  const color = close >= open ? UP : DOWN;
  const unit = height / (high - low);
  const top = y + (high - Math.max(open, close)) * unit;
  const bodyHeight = Math.max(1, Math.abs(close - open) * unit);
  const mid = x + width / 2;
  return (
    <g>
      <line x1={mid} x2={mid} y1={y} y2={y + height} stroke={color} strokeWidth={1} />
      <rect x={mid - CANDLE_WIDTH / 2} y={top} width={CANDLE_WIDTH} height={bodyHeight} fill={color} />
    </g>
  );
}

function VolumeBar(props: any) {
  const { x, y, width, height, payload } = props;
  return <rect x={x + width / 2 - CANDLE_WIDTH / 2} y={y} width={CANDLE_WIDTH} height={height} fill={payload.up ? UP : DOWN} />;
}

function PriceTick(props: any) {
  const { x, y, payload } = props;
  const major = payload.value % 1000 === 0;
  // the 10,000 text sits behind the current price box in the original
  const showText = major && payload.value !== 10000;
  return (
    <g>
      <line x1={x} x2={x + (major ? 6 : 3)} y1={y} y2={y} stroke="#777" />
      {showText && (
        <text x={x + 9} y={y + 4} style={tickText}>
          {payload.value.toLocaleString("en-US")}
        </text>
      )}
    </g>
  );
}

function VolumeTick(props: any) {
  const { x, y, payload } = props;
  const major = payload.value % 2500 === 0;
  return (
    <g>
      <line x1={x} x2={x + (major ? 6 : 3)} y1={y} y2={y} stroke="#777" />
      {major && (
        <text x={x + 9} y={y + 4} style={tickText}>
          {`${payload.value.toLocaleString("en-US")}K`}
        </text>
      )}
    </g>
  );
}

function MonthTick(props: any) {
  const { x, y, payload, index } = props;
  const label = MONTH_LABELS[MONTH_DAYS.indexOf(payload.value)];
  return (
    <g key={index}>
      <line x1={x} x2={x} y1={y} y2={y + 18} stroke="#8A8A8A" />
      <text x={x + 1} y={y + 14} style={{ ...tickText, fill: "#333" }}>
        {label}
      </text>
    </g>
  );
}

function dividendShape(label: string) {
  return (props: any) => {
    const { cx, cy } = props;
    return (
      <g>
        <line x1={cx} x2={cx} y1={cy - 20} y2={cy - 4} stroke="#E01010" />
        <path d={`M${cx - 6} ${cy - 6} L${cx + 6} ${cy - 6} L${cx} ${cy} Z`} fill="#E01010" />
        <text x={cx} y={cy - 23} textAnchor="middle" style={{ ...noteText, fill: "#333" }}>
          {label}
        </text>
      </g>
    );
  };
}

function HighShape(props: any) {
  const { cx, cy } = props;
  const y = cy + 4;
  return (
    <g>
      <line x1={cx - 15} x2={cx} y1={y} y2={y} stroke="#DD1515" />
      <path d={`M${cx - 5} ${y - 5} L${cx} ${y} L${cx - 5} ${y + 5} Z`} fill="#DD1515" />
      <line x1={cx} x2={cx} y1={y - 6} y2={y + 6} stroke="#DD1515" />
      <text x={cx - 21} y={y + 5} textAnchor="end" style={{ ...noteText, fill: "#C81818" }}>
        최고 16,430 (04/10)
      </text>
    </g>
  );
}

function LowShape(props: any) {
  const { cx, cy } = props;
  const y = cy - 3;
  return (
    <g>
      <line x1={cx - 13} x2={cx} y1={y} y2={y} stroke="#1010C0" />
      <path d={`M${cx - 6} ${y - 5} L${cx} ${y} L${cx - 6} ${y + 5} Z`} fill="#1010C0" />
      <text x={cx - 19} y={y + 4} textAnchor="end" style={{ ...noteText, fill: "#1818A8" }}>
        최저 6,100 (03/23)
      </text>
    </g>
  );
}

function backgroundBands() {
  return [
    ...PINK_BANDS.map(([a, b]) => (
      <ReferenceArea key={`p${a}`} x1={a} x2={b} fill={PINK} fillOpacity={1} stroke="none" ifOverflow="hidden" zIndex={-60} />
    )),
    ...SKY_BANDS.map(([a, b]) => (
      <ReferenceArea key={`s${a}`} x1={a} x2={b} fill={SKY} fillOpacity={1} stroke="none" ifOverflow="hidden" zIndex={-60} />
    )),
    ...MONTH_DAYS.slice(1, -1).map((d) => (
      <ReferenceLine key={`m${d}`} x={d} stroke={GRID} strokeWidth={1.5} zIndex={-50} />
    )),
  ];
}

const lineDefaults = { dot: false, activeDot: false, isAnimationActive: false, legendType: "none", dataKey: "value", type: "monotone" };

function PriceChart() {
  return (
    <ComposedChart width={1732} height={563} margin={{ top: 0, right: 0, bottom: 0, left: 8 }} data={candleRows}>
      <XAxis dataKey="day" type="number" domain={[0, LAST_DAY]} hide allowDataOverflow />
      <YAxis
        orientation="right"
        width={62}
        domain={[5020, 16510]}
        allowDataOverflow
        ticks={priceTicks}
        interval={0}
        tick={<PriceTick />}
        tickLine={false}
        tickSize={0}
        tickMargin={0}
        stroke="#8A8A8A"
      />
      {backgroundBands()}
      {PRICE_LABELS.map((p) => (
        <ReferenceLine key={p} y={p} stroke={GRID} strokeWidth={1.5} zIndex={-50} />
      ))}
      <Area data={cloudRows} dataKey="range" type="linear" stroke={CLOUD} strokeWidth={1.5} fill={CLOUD} fillOpacity={1} dot={false} activeDot={false} isAnimationActive={false} />
      <Bar dataKey="range" barSize={3} shape={<Candle />} isAnimationActive={false} />
      <Line data={toRows(MA_GRAY)} {...lineDefaults} stroke="#8E8E84" strokeWidth={2} />
      <Line data={toRows(MA_NAVY)} {...lineDefaults} stroke="#14149A" strokeWidth={1} />
      <Line data={toRows(MA_GREEN)} {...lineDefaults} stroke="#2C8A3C" strokeWidth={1} />
      <Line data={toRows(MA_YELLOW)} {...lineDefaults} stroke="#FFFF33" strokeWidth={3} />
      <Line data={toRows(MA_ORANGE)} {...lineDefaults} stroke="#E69A2E" strokeWidth={1} />
      <Line data={toRows(MA_RED_2018)} {...lineDefaults} stroke="#DD2A20" strokeWidth={1} />
      <Line data={toRows(MA_RED_2018_DEC)} {...lineDefaults} stroke="#DD2A20" strokeWidth={1} />
      <Line data={toRows(MA_RED_2020)} {...lineDefaults} stroke="#DD2A20" strokeWidth={1} />
      <Line data={toRows(BAND_UPPER)} {...lineDefaults} stroke="#843A6C" strokeWidth={2} />
      <Line data={toRows(BAND_LOWER)} {...lineDefaults} stroke="#843A6C" strokeWidth={2} />
      <Line data={toRows(MA_BLACK)} {...lineDefaults} stroke="#000000" strokeWidth={3.5} />
      {LEVELS.map((level, i) => (
        <ReferenceLine
          key={level}
          y={level}
          stroke="#CC1A22"
          strokeWidth={2.5}
          zIndex={450}
          label={{ value: LEVEL_LABELS[i], position: "insideBottomLeft", fill: "#BE2A2A", fontSize: 13, fontFamily: FONT, offset: 3 }}
        />
      ))}
      {DIVIDEND_DAYS.map((day, i) => (
        <ReferenceDot key={day} x={day} y={DIVIDEND_PRICES[i]} ifOverflow="visible" shape={dividendShape(DIVIDEND_LABELS[i])} zIndex={460} />
      ))}
      <ReferenceDot x={112.8} y={16430} ifOverflow="visible" shape={<HighShape />} zIndex={460} />
      <ReferenceDot x={591.5} y={6100} ifOverflow="visible" shape={<LowShape />} zIndex={460} />
    </ComposedChart>
  );
}

function VolumeChart() {
  return (
    <ComposedChart width={1732} height={165} margin={{ top: 0, right: 0, bottom: 0, left: 8 }} data={volumeRows}>
      <XAxis
        dataKey="day"
        type="number"
        domain={[0, LAST_DAY]}
        allowDataOverflow
        ticks={MONTH_DAYS}
        interval={0}
        height={18}
        tick={<MonthTick />}
        tickLine={false}
        tickSize={0}
        tickMargin={0}
        stroke="#8A8A8A"
      />
      <YAxis
        orientation="right"
        width={62}
        domain={[0, 8820]}
        allowDataOverflow
        ticks={volumeTicks}
        interval={0}
        tick={<VolumeTick />}
        tickLine={false}
        tickSize={0}
        tickMargin={0}
        stroke="#8A8A8A"
      />
      {backgroundBands()}
      {VOLUME_LABELS.map((v) => (
        <ReferenceLine key={v} y={v} stroke={GRID} strokeWidth={1.5} zIndex={-50} />
      ))}
      <Bar dataKey="value" barSize={3} shape={<VolumeBar />} isAnimationActive={false} />
      <Line data={toRows(VOL_MA5)} {...lineDefaults} stroke="#C030B0" strokeWidth={1.2} />
      <Line data={toRows(VOL_MA20)} {...lineDefaults} stroke="#D8A828" strokeWidth={1.2} />
      <Line data={toRows(VOL_MA60)} {...lineDefaults} stroke="#2A8A3A" strokeWidth={1.2} />
      <Line data={toRows(VOL_MA120)} {...lineDefaults} stroke="#8A8A8A" strokeWidth={1.2} />
    </ComposedChart>
  );
}

const absText = (left: number, top: number, color: string, extra = {}) => ({
  position: "absolute" as const,
  left,
  top,
  color,
  fontFamily: FONT,
  fontSize: 13,
  lineHeight: "14px",
  letterSpacing: -0.3,
  whiteSpace: "nowrap" as const,
  ...extra,
});

export default function App() {
  return (
    <div style={{ position: "absolute", left: 0, top: 0, width: 1732, height: 728, overflow: "hidden", background: PANEL }}>
      {/* plot backdrop and the gray left edge */}
      <div style={{ position: "absolute", left: 0, top: 0, width: 1670, height: 710, background: "#FFFFFF" }} />
      <div style={{ position: "absolute", left: 0, top: 0, width: 2, height: 728, background: "#B8B8B8" }} />
      <div style={{ position: "absolute", left: 7, top: 0, width: 1, height: 728, background: "#A8A8A8" }} />

      <div style={{ position: "absolute", left: 0, top: 0 }}>
        <PriceChart />
      </div>
      <div style={{ position: "absolute", left: 0, top: 563 }}>
        <VolumeChart />
      </div>
      <div style={{ position: "absolute", left: 8, top: 562, width: 1724, height: 2, background: "#8E8E8E" }} />

      {/* table icon */}
      <svg style={{ position: "absolute", left: 13, top: 3 }} width={14} height={14}>
        <rect x={0.5} y={0.5} width={13} height={13} fill="#E8E8E8" stroke="#333" />
        <path d="M2 4.5H12M2 7.5H12M2 10.5H12M5 2V12M9 2V12" stroke="#666" strokeWidth={1} />
      </svg>

      {ICHIMOKU_TEXTS.map((text, i) => (
        <div key={text} style={absText(1465, 22 + i * 12, ICHIMOKU_COLORS[i], { width: 200, textAlign: "right", fontSize: 12.6, lineHeight: "12px" })}>
          {text}
        </div>
      ))}

      <div style={absText(1671, -3, "#2B62C0", { fontSize: 12 })}>HC:-38,53</div>
      <div style={{ ...absText(1675, 307, "#FFFFFF", { fontSize: 12 }), width: 57, height: 14, background: "#1A5EC8", paddingLeft: 3, boxSizing: "border-box" }}>10,100</div>
      <div style={absText(1679, 320, "#2B62C0", { fontSize: 12 })}>-1.94%</div>

      <svg style={{ position: "absolute", left: 13, top: 566 }} width={8} height={8}>
        <rect x={0.5} y={0.5} width={6} height={6} fill="#B0B0B0" stroke="#777" />
      </svg>
      <div style={absText(22, 563, "#3A8A90", { wordSpacing: 5 })}>
        거래량{" "}
        <span style={{ color: "#B030B0" }}>단순 5</span>{" "}
        <span style={{ color: "#D8A828" }}>20</span>{" "}
        <span style={{ color: "#2A8A3A" }}>60</span>{" "}
        <span style={{ color: "#808080" }}>120</span>
      </div>
      <div style={absText(13, 576, "#222222", { fontSize: 12 })}>688,110주(38.53%)</div>

      <div style={{ ...absText(1725, 565, "#FFFFFF", { fontSize: 7, lineHeight: "7px" }), width: 7, height: 7, background: "#333", textAlign: "center" }}>×</div>
      <div style={{ ...absText(1675, 685, "#FFFFFF", { fontSize: 12 }), width: 57, height: 12, lineHeight: "12px", background: "#1A5EC8", paddingLeft: 3, boxSizing: "border-box" }}>688,110</div>
      <div style={absText(1678, 697, "#2B62C0", { fontSize: 12, lineHeight: "12px" })}>38.53%</div>
    </div>
  );
}
